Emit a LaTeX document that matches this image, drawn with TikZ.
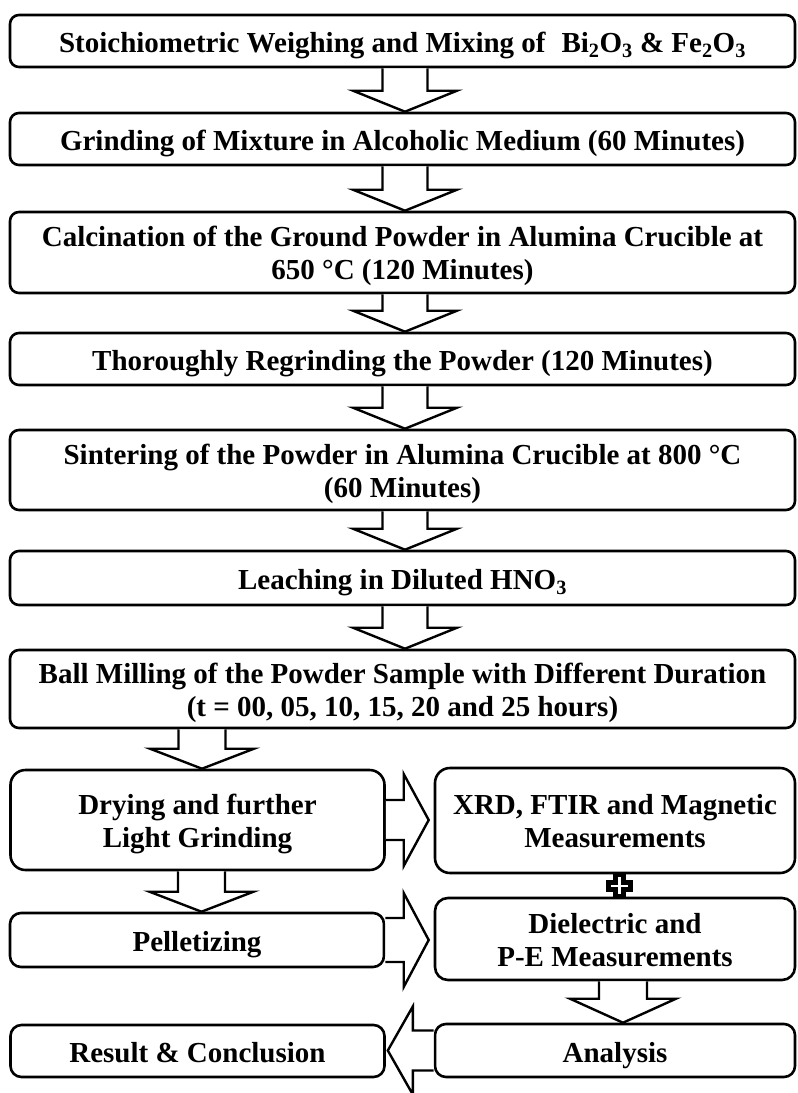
\documentclass[tikz,border=0pt]{standalone}
\usepackage{fontspec}
\setmainfont{Liberation Serif}
\usetikzlibrary{calc}
\newcommand{\bxtop}{\rule{0pt}{30pt}}
\newcommand{\bxbot}{\rule[-7pt]{0pt}{7pt}}
\newcommand{\bxfirst}{\rule{0pt}{28pt}}
\newcommand{\arrD}[6][0]{% [x offset] from, to, shaft half, head half, head length
  \path[barrow] let \p1=($(#2.south -| #3.north)+(#1,0)$), \p2=(#3.north) in
  (\x1-#4,\y1) -- (\x1-#4,\y2+#6) -- (\x1-#5,\y2+#6) -- (\x1,\y2) -- (\x1+#5,\y2+#6) -- (\x1+#4,\y2+#6) -- (\x1+#4,\y1);}
\newcommand{\arrR}[6]{% from, to, shaft half, head half, head length, gap
  \path[barrow] let \p1=(#1.east), \p2=(#2.west) in
  (\x1,\y1+#3) -- (\x2-#6-#5,\y1+#3) -- (\x2-#6-#5,\y1+#4) -- (\x2-#6,\y1) -- (\x2-#6-#5,\y1-#4) -- (\x2-#6-#5,\y1-#3) -- (\x1,\y1-#3);}
\newcommand{\arrL}[6]{% from, to, shaft half, head half, head length, gap
  \path[barrow] let \p1=(#1.west), \p2=(#2.east) in
  (\x1,\y1+#3) -- (\x2+#6+#5,\y1+#3) -- (\x2+#6+#5,\y1+#4) -- (\x2+#6,\y1) -- (\x2+#6+#5,\y1-#4) -- (\x2+#6+#5,\y1-#3) -- (\x1,\y1-#3);}
\newcommand{\plusconn}[3]{% from, to, x offset
  \path[barrow, line width=5pt] let \p1=($(#1.south)+(#3,0)$), \p2=(#2.north), \p3=($(\p1)!0.5!(\p2)$) in
  (\x1-4pt,\y1) -- (\x1-4pt,\y3+3.5pt) -- (\x1-11pt,\y3+3.5pt) -- (\x1-11pt,\y3-3.5pt) -- (\x1-4pt,\y3-3.5pt) -- (\x1-4pt,\y2)
  -- (\x1+4pt,\y2) -- (\x1+4pt,\y3-3.5pt) -- (\x1+11pt,\y3-3.5pt) -- (\x1+11pt,\y3+3.5pt) -- (\x1+4pt,\y3+3.5pt) -- (\x1+4pt,\y1) -- cycle;}
\begin{document}
\begin{tikzpicture}[x=1pt,y=-1pt,
  box/.style={draw=black, line width=2.6pt, rounded corners=9pt, fill=white, inner sep=0pt,
    align=center, font=\bfseries\fontsize{29}{33}\selectfont,
    execute at begin node=\bxtop, execute at end node=\bxbot},
  wide/.style={box, minimum width=785pt},
  half/.style={box, minimum width=374pt},
  rhalf/.style={box, minimum width=360pt},
  barrow/.style={draw=black, line width=2.4pt, fill=white, line join=miter}]
\useasboundingbox (0,0) rectangle (798,1093);
\fill[white] (0,0) rectangle (798,1093);
% main column
\node[wide, minimum height=52pt] (b1) at (402.5,41) {Stoichiometric Weighing and Mixing of\hspace{0.3em} Bi\textsubscript{2}O\textsubscript{3} \& Fe\textsubscript{2}O\textsubscript{3}};
\node[wide, minimum height=52pt] (b2) at (402.5,139) {Grinding of Mixture in Alcoholic Medium (60 Minutes)};
\node[wide, minimum height=81pt] (b3) at (402.5,252.5) {\bxfirst Calcination of the Ground Powder in Alumina Crucible at\\650 °C (120 Minutes)};
\node[wide, minimum height=52pt] (b4) at (402.5,359) {Thoroughly Regrinding the Powder (120 Minutes)};
\node[wide, minimum height=80pt] (b5) at (402.5,470) {\bxfirst Sintering of the Powder in Alumina Crucible at 800 °C\\(60 Minutes)};
\node[wide, minimum height=54pt] (b6) at (402.5,578) {Leaching in Diluted HNO\textsubscript{3}};
\node[wide, minimum height=78pt] (b7) at (402.5,689) {\bxfirst Ball Milling of the Powder Sample with Different Duration\\(t = 00, 05, 10, 15, 20 and 25 hours)};
% lower part
\node[half, minimum height=100pt, rounded corners=15pt] (b8) at (197.5,820) {\bxfirst Drying and further\\Light Grinding};
\node[rhalf, minimum height=105pt, rounded corners=15pt] (b9) at (615,820.5) {\bxfirst XRD, FTIR and Magnetic\\Measurements};
\node[half, minimum height=54pt, rounded corners=11pt] (b10) at (197,940) {Pelletizing};
\node[rhalf, minimum height=82pt, rounded corners=13pt] (b11) at (615,939) {\bxfirst Dielectric and\\P-E Measurements};
\node[half, minimum height=52pt, rounded corners=11pt] (b12) at (197.5,1051) {Result \& Conclusion};
\node[rhalf, minimum height=53pt, rounded corners=11pt] (b13) at (615,1050.5) {Analysis};
% connectors
\arrD[2.5]{b1}{b2}{22.5pt}{52pt}{21pt}
\arrD[2.5]{b2}{b3}{22.5pt}{52pt}{21pt}
\arrD[2.5]{b3}{b4}{22.5pt}{52pt}{21pt}
\arrD[2.5]{b4}{b5}{22.5pt}{52pt}{21pt}
\arrD[2.5]{b5}{b6}{22.5pt}{52pt}{21pt}
\arrD[2.5]{b6}{b7}{22.5pt}{52pt}{21pt}
\arrD[4.5]{b7}{b8}{23.5pt}{52pt}{20pt}
\arrD[4.5]{b8}{b10}{23.5pt}{52pt}{20pt}
\arrD[8]{b11}{b13}{24pt}{53pt}{24pt}
\arrR{b8}{b9}{20pt}{46pt}{25pt}{5pt}
\arrR{b10}{b11}{22pt}{47pt}{25pt}{5pt}
\arrL{b13}{b12}{20pt}{44pt}{25pt}{2pt}
\plusconn{b9}{b11}{4}
\end{tikzpicture}
\end{document}
